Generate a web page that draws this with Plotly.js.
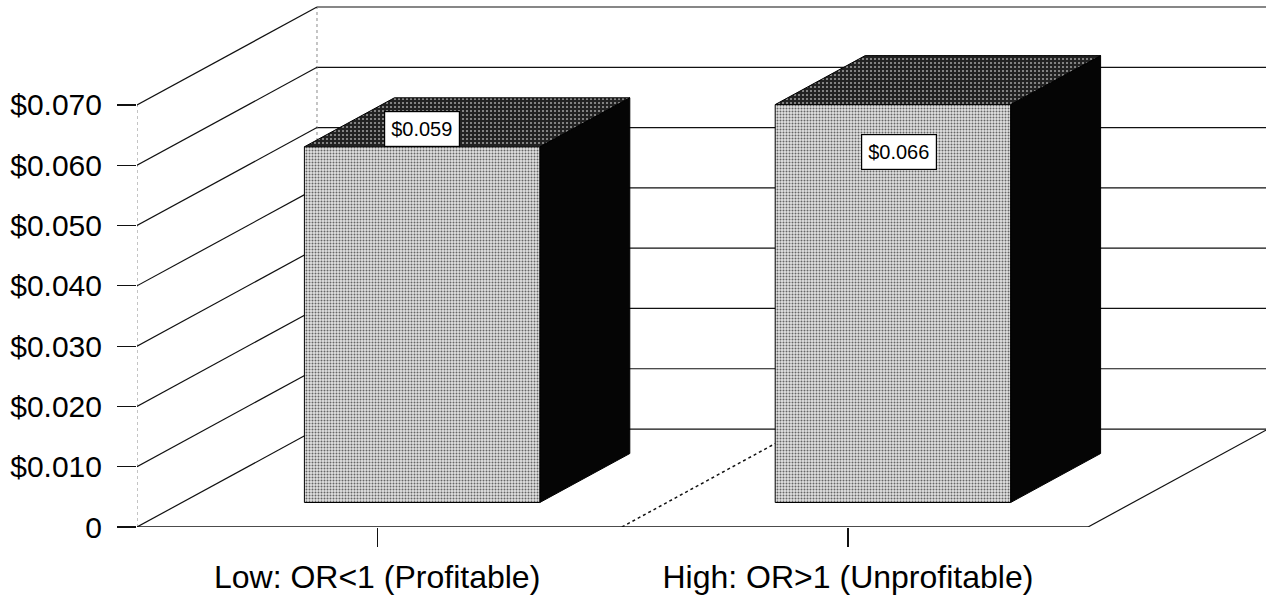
<!DOCTYPE html>
<html>
<head>
<meta charset="utf-8">
<script src="https://cdn.plot.ly/plotly-3.0.1.min.js"></script>
<style>
  html, body { margin: 0; padding: 0; background: #ffffff; }
  #chart { width: 1266px; height: 599px; }
</style>
</head>
<body>
<div id="chart"></div>
<script>
// ---------------- data ----------------
const categories = ['Low: OR<1 (Profitable)', 'High: OR>1 (Unprofitable)'];
const values = [0.059, 0.066];
const valueLabels = ['$0.059', '$0.066'];
const yTickVals = [0, 0.01, 0.02, 0.03, 0.04, 0.05, 0.06, 0.07];
const yTickText = ['0', '$0.010', '$0.020', '$0.030', '$0.040', '$0.050', '$0.060', '$0.070'];

// ---------------- pseudo-3D geometry (layout only) ----------------
const XMIN = -0.51, XMAX = 1.51;      // floor extent along category axis
const YMAX = 0.07;                    // wall top
const DX = 0.3823, DY = 0.01625;      // projected depth vector (full depth)
const Z0 = 0.25, Z1 = 0.75;           // bar depth span
const BW = 0.5;                       // bar width
const FONT = 'Liberation Sans, Arial, sans-serif';

function P(x, y, z) { return [x + z * DX, y + z * DY]; }

const traces = [];
function line(pts, color, width, dash) {
  traces.push({
    type: 'scatter', mode: 'lines',
    x: pts.map(p => p[0]), y: pts.map(p => p[1]),
    line: { color: color, width: width, dash: dash || 'solid' },
    hoverinfo: 'skip', showlegend: false
  });
}
function face(pts, pattern, fill) {
  const c = pts.concat([pts[0]]);
  const t = {
    type: 'scatter', mode: 'lines', fill: 'toself',
    x: c.map(p => p[0]), y: c.map(p => p[1]),
    line: { color: '#000000', width: 1 },
    fillcolor: fill,
    hoverinfo: 'skip', showlegend: false
  };
  if (pattern) t.fillpattern = pattern;
  traces.push(t);
}

// back wall gridlines
yTickVals.forEach(v => line([P(XMIN, v, 1), P(XMAX + 0.2, v, 1)], '#111111', 1.2));
// faint wall edges
line([P(XMIN, 0, 0), P(XMIN, YMAX, 0)], '#8a8a8a', 1, 'dot');
line([P(XMIN, 0, 1), P(XMIN, YMAX, 1)], '#8a8a8a', 1, 'dot');
// left wall diagonals
yTickVals.forEach(v => line([P(XMIN, v, 0), P(XMIN, v, 1)], '#111111', 1.2));
// floor
line([P(XMIN, 0, 0), P(XMAX, 0, 0)], '#111111', 1.5);
line([P(XMAX, 0, 0), P(XMAX, 0, 1)], '#111111', 1.2);
line([P(0.52, 0, 0), P(0.52, 0, 1)], '#111111', 1.5, 'dot');

// bars
const frontPat = { shape: '.', bgcolor: '#e2e2e2', fgcolor: '#666666', size: 3, solidity: 0.34 };
const topPat = { shape: '.', bgcolor: '#222222', fgcolor: '#9a9a9a', size: 4, solidity: 0.22 };
values.forEach((v, i) => {
  const x0 = i - BW / 2, x1 = i + BW / 2;
  face([P(x1, 0, Z0), P(x1, 0, Z1), P(x1, v, Z1), P(x1, v, Z0)], null, '#050505');
  face([P(x0, v, Z0), P(x1, v, Z0), P(x1, v, Z1), P(x0, v, Z1)], topPat, '#222222');
  face([P(x0, 0, Z0), P(x1, 0, Z0), P(x1, v, Z0), P(x0, v, Z0)], frontPat, '#e2e2e2');
});

// value label boxes
const labelAnchor = ['bottom', 'top'];
const labelShiftY = [0, -29];
const labelShiftX = [0, 6];
const annotations = values.map((v, i) => {
  const p = P(i, v, Z0);
  return {
    x: p[0], y: p[1], xref: 'x', yref: 'y',
    text: valueLabels[i], showarrow: false,
    xanchor: 'center', yanchor: labelAnchor[i],
    yshift: labelShiftY[i], xshift: labelShiftX[i],
    font: { family: FONT, size: 20, color: '#000000' },
    bgcolor: '#ffffff', bordercolor: '#000000', borderwidth: 1.2, borderpad: 6
  };
});

const layout = {
  width: 1266, height: 599,
  margin: { l: 137, r: 0, t: 5, b: 72 },
  paper_bgcolor: '#ffffff', plot_bgcolor: '#ffffff',
  showlegend: false,
  xaxis: {
    range: [XMIN, XMIN + 1129 / 470.8],
    tickvals: [0, 1], ticktext: categories,
    ticks: 'outside', ticklen: 19, tickwidth: 1.2, tickcolor: '#111111',
    showgrid: false, zeroline: false, showline: false,
    tickfont: { family: FONT, size: 32, color: '#000000' },
    ticklabelstandoff: 3, fixedrange: true
  },
  yaxis: {
    range: [0, 522 / 6029],
    tickvals: yTickVals, ticktext: yTickText,
    ticks: 'outside', ticklen: 19, tickwidth: 1.2, tickcolor: '#111111',
    showgrid: false, zeroline: false, showline: false,
    tickfont: { family: FONT, size: 30, color: '#000000' },
    ticklabelstandoff: 9, fixedrange: true
  },
  annotations: annotations
};

Plotly.newPlot('chart', traces, layout, { staticPlot: true, displayModeBar: false });
</script>
</body>
</html>
